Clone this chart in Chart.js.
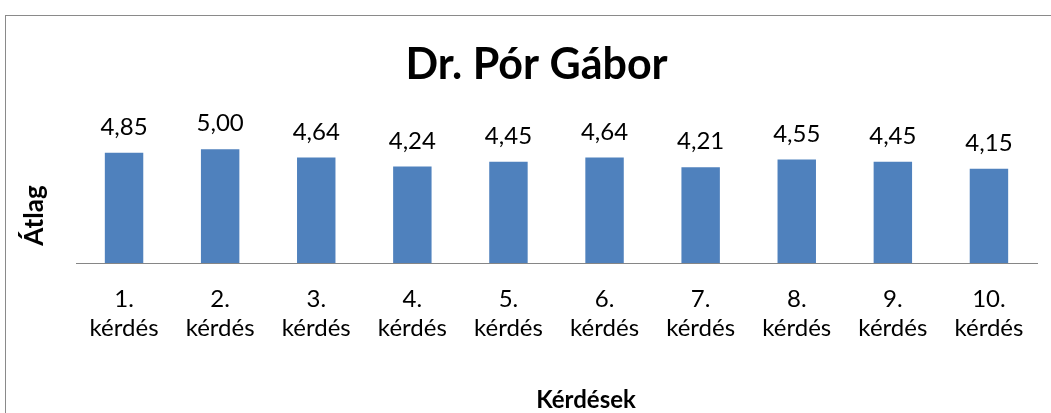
<!DOCTYPE html>
<html>
<head>
<meta charset="utf-8">
<script src="https://cdn.jsdelivr.net/npm/chart.js@4.4.0/dist/chart.umd.min.js"></script>
<style>
  html, body { margin:0; padding:0; width:1051px; height:413px; overflow:hidden; background:#fff; }
  #frame { position:absolute; left:5px; top:15px; width:1200px; height:600px; border:1px solid #8a8a8a; box-sizing:border-box; }
  #wrap { position:absolute; left:0; top:0; width:1051px; height:413px; }
</style>
</head>
<body>
<div id="frame"></div>
<div id="wrap"><canvas id="c" width="1051" height="413"></canvas></div>
<script>
const chartTitle = "Dr. Pór Gábor";
const xAxisTitle = "Kérdések";
const yAxisTitle = "Átlag";
const categories = [
  ["1.", "kérdés"], ["2.", "kérdés"], ["3.", "kérdés"], ["4.", "kérdés"], ["5.", "kérdés"],
  ["6.", "kérdés"], ["7.", "kérdés"], ["8.", "kérdés"], ["9.", "kérdés"], ["10.", "kérdés"]
];
const averages = [4.85, 5.00, 4.64, 4.24, 4.45, 4.64, 4.21, 4.55, 4.45, 4.15];
const yMin = 0;
const yMax = 6;

const FONT = "Lato, 'Open Sans', sans-serif";

const labelsPlugin = {
  id: 'labelsAndTitles',
  afterDatasetsDraw(chart) {
    const ctx = chart.ctx;
    const meta = chart.getDatasetMeta(0);
    ctx.save();
    ctx.fillStyle = '#000';
    ctx.font = "24px " + FONT;
    ctx.textAlign = 'center';
    ctx.textBaseline = 'alphabetic';
    meta.data.forEach((bar, i) => {
      const v = chart.data.datasets[0].data[i];
      ctx.fillText(v.toFixed(2).replace('.', ','), bar.x, bar.y - 18);
    });
    ctx.restore();
  },
  afterDraw(chart) {
    const ctx = chart.ctx;
    ctx.save();
    ctx.fillStyle = '#000';
    ctx.font = "bold 24px " + FONT;
    ctx.textAlign = 'center';
    ctx.textBaseline = 'alphabetic';
    ctx.fillText(xAxisTitle, 586, 408);
    ctx.translate(43, 215.5);
    ctx.rotate(-Math.PI / 2);
    ctx.font = "bold 26px " + FONT;
    ctx.fillText(yAxisTitle, 0, 0);
    ctx.restore();
  }
};

new Chart(document.getElementById('c'), {
  type: 'bar',
  data: {
    labels: categories,
    datasets: [{
      data: averages,
      backgroundColor: '#4F81BD',
      borderWidth: 0,
      barPercentage: 0.4,
      categoryPercentage: 1.0
    }]
  },
  options: {
    responsive: false,
    animation: false,
    devicePixelRatio: 1,
    layout: { padding: { left: 36, right: 14, top: 0, bottom: 0 } },
    plugins: {
      legend: { display: false },
      tooltip: { enabled: false },
      title: {
        display: true,
        text: chartTitle,
        color: '#000',
        font: { family: FONT, size: 43, weight: 'bold', lineHeight: 1.2 },
        padding: { top: 39, bottom: 36 }
      }
    },
    scales: {
      x: {
        grid: { display: false, drawTicks: false },
        border: { display: true, color: '#868686', width: 1 },
        ticks: {
          color: '#000',
          font: { family: FONT, size: 24, lineHeight: 1.2 },
          padding: 22,
          maxRotation: 0,
          autoSkip: false
        },
        afterFit(scale) { scale.height = 150; }
      },
      y: {
        min: yMin,
        max: yMax,
        grid: { display: false, drawTicks: false },
        border: { display: false },
        ticks: { display: false },
        afterFit(scale) { scale.width = 40; }
      }
    }
  },
  plugins: [labelsPlugin]
});
</script>
</body>
</html>
